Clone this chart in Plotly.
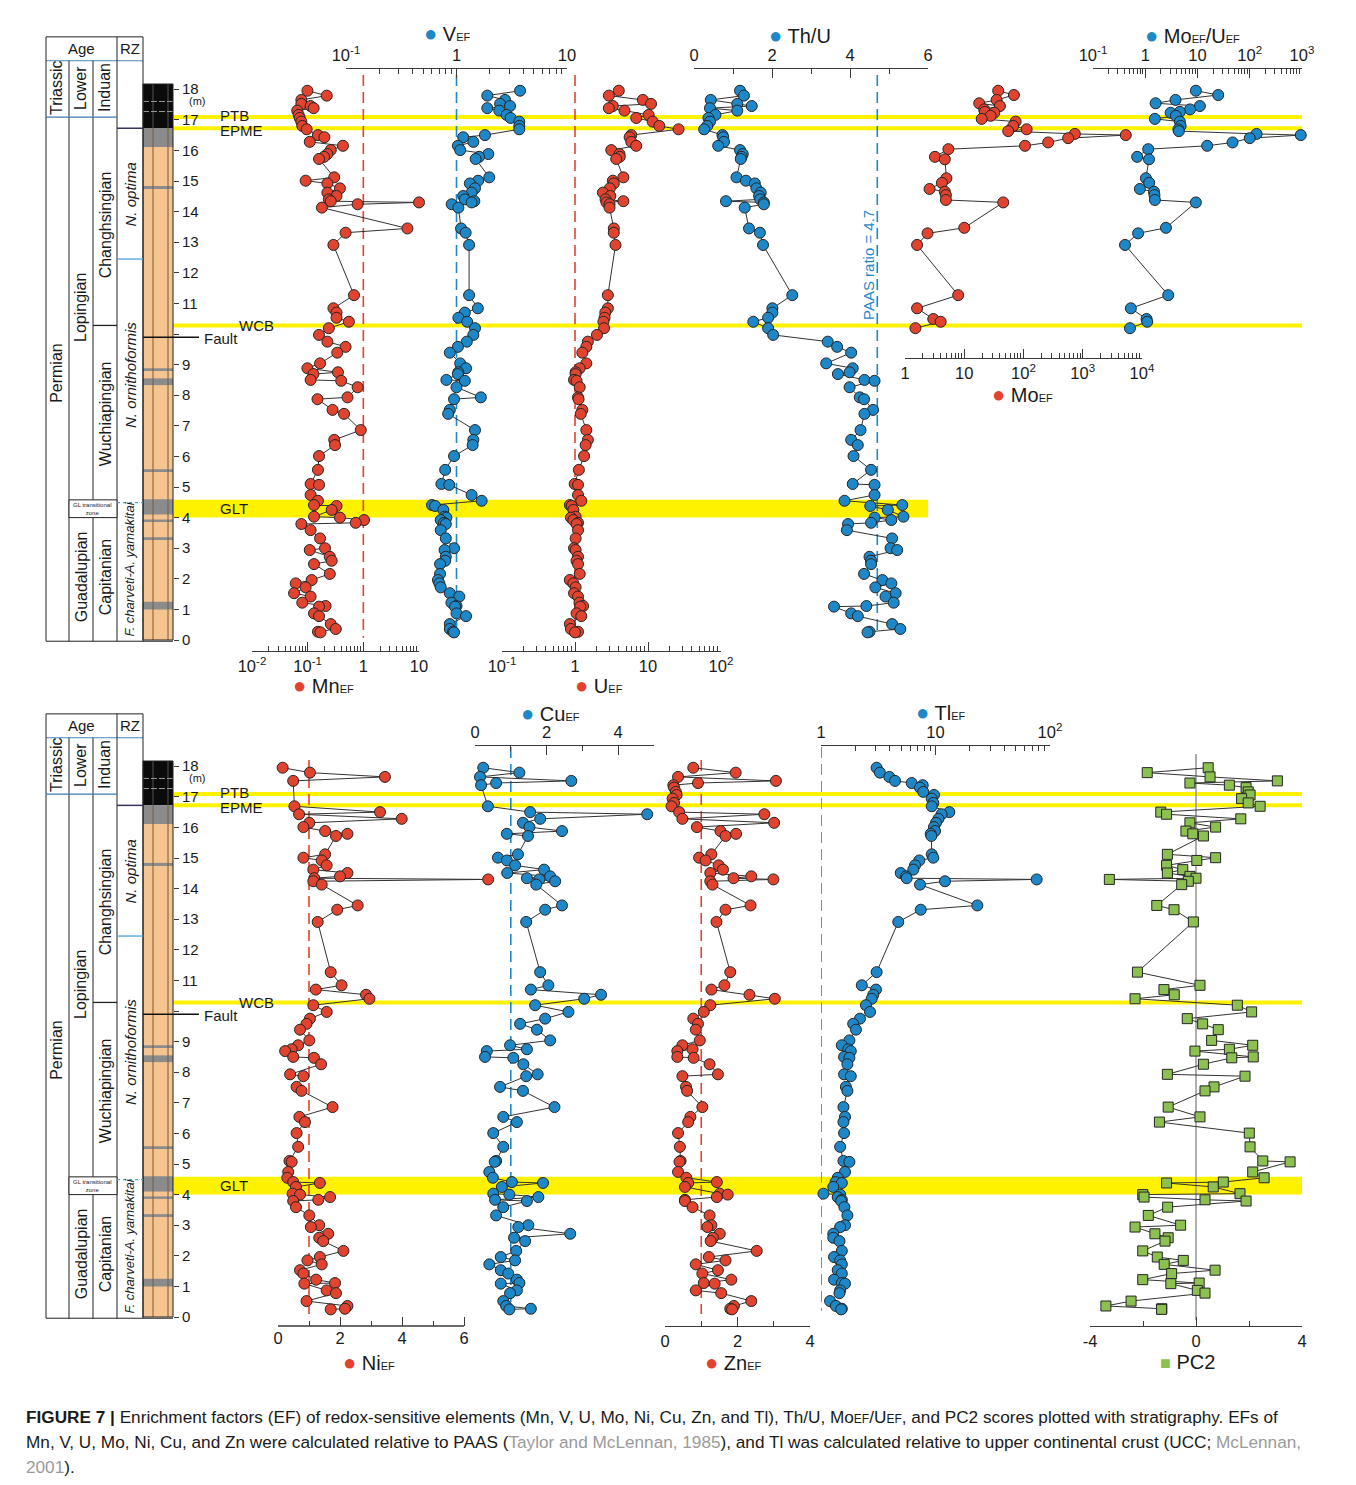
import plotly.graph_objects as go

FONT = "Liberation Sans, Arial, sans-serif"
W, HT = 1356, 1485


def fx(px):
    return px / W


def fy(py):
    return 1 - py / HT


# ---------------------------------------------------------------- data
# sample heights in the section (m)
height = [17.95, 17.79, 17.65, 17.52, 17.45, 17.38, 17.30, 17.16, 17.06, 16.94,
          16.80, 16.69, 16.50, 16.43, 16.28, 16.15, 16.01, 15.88, 15.79, 15.72,
          15.12, 15.01, 14.92, 14.76, 14.62, 14.51, 14.40, 14.34, 14.30, 14.24, 14.13,
          13.45, 13.31, 12.91, 11.27, 10.84, 10.70, 10.53, 10.40, 10.19, 9.97,
          9.75, 9.58, 9.39, 9.04, 8.88, 8.75, 8.69, 8.50, 8.47, 8.26,
          7.93, 7.87, 7.52, 7.39, 6.86, 6.54, 6.37, 6.01, 5.56, 5.10,
          5.07, 4.74, 4.55, 4.41, 4.38, 4.25, 4.03, 4.00, 3.92, 3.83,
          3.79, 3.59, 3.32, 3.00, 2.94, 2.72, 2.59, 2.48, 2.16, 1.96,
          1.85, 1.72, 1.53, 1.42, 1.22, 1.11, 1.09, 0.87, 0.78, 0.52,
          0.36, 0.27, 0.25]

mn_ef = [0.099, 0.22, 0.077, 0.077, 0.113, 0.128, 0.065, 0.069, 0.072, 0.077,
         0.080, 0.096, 0.153, 0.20, 0.109, 0.43, 0.26, 0.226, 0.197, 0.16,
         0.30, 0.092, 0.226, 0.38, 0.226, 0.33, 0.24, 0.26, 10.0, 0.79, 0.18,
         6.2, 0.48, 0.29, 0.68, 0.29, 0.33, 0.33, 0.55, 0.24, 0.16,
         0.226, 0.48, 0.34, 0.167, 0.099, 0.35, 0.127, 0.113, 0.40, 0.79,
         0.52, 0.15, 0.28, 0.45, 0.90, 0.30, 0.31, 0.16, 0.153, 0.113,
         0.16, 0.113, 0.153, 0.13, 0.33, 0.27, 0.13, 0.38, 1.03, 0.73,
         0.077, 0.113, 0.167, 0.205, 0.109, 0.25, 0.27, 0.13, 0.25, 0.118,
         0.061, 0.092, 0.057, 0.113, 0.080, 0.21, 0.16, 0.13, 0.16, 0.26,
         0.32, 0.153, 0.17]

v_ef = [3.76, 1.90, 2.75, 2.48, 3.05, 1.90, 2.44, 2.84, 3.09, 3.70,
        3.70, 3.70, 1.81, 1.15, 1.42, 1.03, 1.08, 1.94, 1.60, 1.49,
        1.98, 1.57, 1.32, 1.47, 1.37, 1.15, 1.19, 1.45, 1.37, 0.905, 1.04,
        1.10, 1.21, 1.30, 1.30, 1.56, 1.19, 1.04, 1.25, 1.47, 1.42,
        1.24, 1.03, 0.87, 1.08, 1.22, 1.04, 1.03, 0.81, 1.19, 1.0,
        1.66, 0.95, 0.87, 0.84, 1.47, 1.42, 1.40, 0.95, 0.79, 0.73,
        0.86, 1.37, 1.69, 0.60, 0.64, 0.76, 0.78, 0.81, 0.72, 0.77,
        0.80, 0.72, 0.80, 0.95, 0.78, 0.80, 0.79, 0.71, 0.71, 0.68,
        0.70, 0.72, 0.87, 1.06, 0.90, 1.0, 0.97, 1.0, 1.22, 0.87,
        0.87, 0.93, 0.95]

u_ef = [3.98, 2.91, 8.5, 11.0, 3.30, 2.91, 4.76, 10.2, 6.9, 11.6,
        14.3, 26.2, 5.9, 5.6, 5.9, 6.9, 3.14, 4.07, 4.1, 3.67,
        4.6, 3.30, 3.4, 3.0, 2.41, 3.05, 2.62, 4.6, 2.7, 2.97, 2.97,
        3.4, 3.4, 3.59, 2.82, 2.82, 2.6, 2.54, 2.45, 2.5, 2.0,
        1.50, 1.43, 1.26, 1.43, 1.16, 1.02, 1.02, 0.97, 1.05, 1.16,
        1.10, 1.12, 1.26, 1.20, 1.43, 1.50, 1.40, 1.33, 1.13, 0.99,
        1.10, 1.10, 1.22, 0.85, 0.90, 0.95, 1.02, 0.88, 0.95, 1.10,
        1.05, 1.10, 1.02, 0.97, 1.02, 1.10, 1.05, 1.10, 1.16, 0.85,
        0.95, 1.02, 0.97, 1.10, 1.15, 1.29, 1.18, 1.05, 1.22, 0.85,
        0.88, 1.10, 1.0]

th_u = [1.18, 1.28, 0.43, 1.11, 1.48, 0.41, 1.11, 0.55, 0.37, 0.41,
        0.34, 0.26, 0.73, 0.75, 0.77, 0.62, 1.18, 1.25, 1.22, 1.20,
        1.09, 1.33, 1.56, 1.60, 1.71, 1.67, 1.70, 0.82, 1.79, 1.79, 1.30,
        1.41, 1.69, 1.77, 2.52, 2.01, 2.01, 1.90, 1.52, 1.90, 2.03,
        3.43, 3.67, 4.03, 3.39, 4.07, 3.99, 3.69, 4.37, 4.63, 3.99,
        4.25, 4.36, 4.59, 4.37, 4.27, 4.03, 4.20, 4.09, 4.54, 4.07,
        4.63, 4.63, 3.86, 5.34, 4.52, 4.97, 5.37, 4.63, 5.06, 4.54,
        3.95, 3.92, 5.08, 5.04, 5.21, 4.50, 4.54, 4.54, 4.36, 4.83,
        5.06, 4.65, 5.17, 4.91, 5.12, 4.42, 3.59, 4.03, 4.20, 5.08,
        5.29, 4.50, 4.45]

# Mo was measured only in the upper part of the section
mo_height = [17.95, 17.81, 17.65, 17.54, 17.45, 17.34, 17.26, 17.23, 17.13, 17.03,
             16.94, 16.80, 16.69, 16.63, 16.54, 16.50, 16.40, 16.26, 16.15, 16.04,
             15.79, 15.71, 15.09, 14.94, 14.74, 14.65, 14.54, 14.38, 14.30, 13.47,
             13.29, 12.91, 11.27, 10.84, 10.49, 10.40, 10.19]
mo_ef = [37.4, 68.9, 35.2, 17.9, 40.0, 21.7, 22.3, 32.1, 27.9, 19.7,
         73.6, 67.0, 113, 55.2, 736, 5330, 567, 261, 106, 5.4,
         3.2, 4.7, 5.0, 4.2, 2.6, 4.7, 4.9, 4.9, 45.5, 10.0,
         2.4, 1.6, 7.9, 1.6, 3.0, 4.0, 1.5]
mo_u = [9.3, 24.9, 3.8, 1.58, 11.1, 7.2, 4.6, 3.06, 3.86, 1.53,
        4.6, 4.75, 4.3, 4.4, 135, 948, 100, 46.9, 15.3, 1.14,
        0.70, 1.18, 1.03, 1.19, 0.79, 1.47, 1.5, 1.53, 9.3, 2.49,
        0.73, 0.41, 2.75, 0.53, 1.06, 1.09, 0.51]

ni_ef = [0.15, 1.03, 3.45, 0.49, None, None, None, None, None, None,
         None, 0.53, 3.29, 0.68, 3.99, 1.01, 0.82, 1.52, 2.24, 1.87,
         1.52, 0.82, 1.41, 1.57, 1.14, 2.24, 2.0, 1.17, 6.78, 1.14, 1.41,
         2.57, 1.91, 1.28, 1.70, 2.05, 1.22, 2.84, 2.95, 1.14, 1.57,
         1.03, 0.92, 0.71, 1.01, 0.65, 0.44, 0.23, 0.49, 1.16, 1.39,
         0.39, 0.82, 0.60, 0.76, 1.76, 0.69, 0.87, 0.60, 0.65, 0.37,
         0.44, 0.33, 0.30, 0.49, 1.35, 0.58, 0.47, 0.71, 1.68, 1.30,
         0.49, 0.58, 1.01, 1.33, 1.06, 1.62, 1.33, 1.46, 2.11, 1.35,
         0.95, 1.41, 0.71, 0.82, 1.23, 1.84, 0.85, 1.57, 1.87, 0.92,
         2.24, 2.16, 1.70]

cu_ef = [0.23, 1.24, 0.14, 2.69, 0.59, 0.17, None, None, None, None,
         None, 0.36, 1.54, 4.81, 1.82, 1.34, 1.52, 2.43, 0.89, 1.48,
         1.20, 0.64, 0.89, 1.12, 1.93, 0.90, 2.10, 1.45, 1.80, 2.24, 1.71,
         2.43, 1.96, 1.43, 1.82, 2.05, 1.56, 3.52, 3.05, 1.68, 2.61,
         1.96, 1.26, 1.73, 2.10, 0.98, 1.45, 0.33, 0.28, 1.07, 1.35,
         1.75, 1.43, 0.70, 1.34, 2.22, 0.79, 1.17, 0.51, 0.79, 0.59,
         0.55, 0.40, 0.50, 1.03, 1.90, 0.75, 0.51, 0.96, 1.77, 0.56,
         1.45, 0.79, 0.59, 1.49, 1.21, 2.66, 1.09, 1.40, 1.15, 0.72,
         1.12, 0.40, 0.72, 0.93, 1.17, 1.24, 0.72, 1.17, 0.98, 0.79,
         0.87, 1.56, 0.96]

zn_ef = [0.78, 1.95, 0.36, 3.06, 0.91, 0.23, 0.25, 0.30, 0.32, 0.21,
         0.25, 0.18, 0.39, 2.74, 0.48, 3.01, 0.88, 1.53, 1.96, 1.67,
         1.28, 0.94, 1.12, 1.48, 1.60, 1.25, 2.38, 1.89, 2.99, 1.25, 1.31,
         2.36, 1.67, 1.42, 1.80, 1.64, 1.28, 2.33, 3.03, 1.25, 1.07,
         0.78, 0.91, 0.85, 0.96, 0.48, 0.76, 0.34, 0.34, 0.79, 1.23,
         1.46, 0.48, 0.58, 0.61, 1.03, 0.70, 0.64, 0.36, 0.41, 0.43,
         0.40, 0.36, 0.59, 1.43, 0.64, 0.55, 1.51, 1.73, 1.43, 0.55,
         0.55, 0.76, 1.23, 1.28, 1.17, 1.51, 1.32, 1.26, 2.53, 1.21,
         1.67, 0.85, 1.46, 1.03, 1.83, 1.07, 1.37, 0.85, 1.55, 2.38,
         1.90, 1.80, 1.85]

tl_ef = [3.06, 3.27, 3.95, 4.43, 6.2, 7.73, 7.32, 7.82, 9.7, 9.27,
         9.57, 9.27, 13.2, 11.3, 10.6, 10.1, 9.7, 9.9, 9.08, 9.2,
         9.27, 9.57, 7.22, 6.62, 6.4, 4.97, 5.53, 5.6, 76.5, 12.1, 7.32,
         23.2, 7.43, 4.73, 3.06, 2.27, 3.02, 2.86, 2.77, 2.47, 2.68,
         2.19, 1.91, 2.02, 1.77, 1.52, 1.73, 1.82, 1.59, 1.77, 1.70,
         1.59, 1.82, 1.65, 1.70, 1.57, 1.62, 1.57, 1.59, 1.47, 1.57,
         1.77, 1.62, 1.40, 1.34, 1.52, 1.28, 1.05, 1.47, 1.40, 1.52,
         1.50, 1.60, 1.70, 1.62, 1.47, 1.28, 1.28, 1.45, 1.52, 1.30,
         1.47, 1.52, 1.40, 1.52, 1.30, 1.52, 1.62, 1.47, 1.45, 1.20,
         1.35, 1.52, 1.50]

pc2 = [0.46, -1.84, 0.53, 3.07, -0.23, 1.26, 1.89, 1.97, 2.04, 1.72,
       1.97, 2.42, -1.33, -1.11, 1.69, -0.23, 0.74, -0.38, -0.12, 0.28,
       -1.08, 0.74, 0.03, -1.11, -0.50, -1.08, -0.23, 0.0, -3.27, -0.29, -0.54,
       -1.48, -0.83, -0.10, -2.21, 0.15, -1.21, -0.82, -2.30, 1.56, 2.10,
       -0.33, 0.25, 0.84, 0.59, 2.14, 1.26, -0.04, 2.16, 1.35, 0.28,
       -1.08, 1.85, 0.68, 0.34, -1.05, 0.15, -1.38, 2.01, 2.04, 2.52,
       3.55, 2.14, 2.57, 1.03, -1.11, 0.65, 1.66, -2.01, -1.96, 0.34,
       1.89, -1.07, -1.80, -0.58, -2.30, -1.55, -1.05, -1.17, -2.01, -1.46,
       -0.48, -1.20, 0.72, -0.92, -2.01, 0.12, -0.95, 0.05, 0.34, -2.45,
       -3.40, -1.29, -1.30]

# event horizons (m)
ptb_h, epme_h, wcb_h, fault_h = 17.09, 16.72, 10.28, 9.89
glt_h = (4.0, 4.58)

# lithology column (m)
grey_beds = [(14.74, 14.84), (8.79, 8.88), (8.33, 8.55), (5.49, 5.58),
             (4.10, 4.60), (3.86, 3.94), (3.27, 3.36), (1.0, 1.25)]
limestone_top, grey_top, black_top = 16.11, 16.73, 18.17

# depth scale labels (the 10 m label sits under the fault mark)
depth_ticks = list(range(19))
depth_labels = ["" if d == 10 else str(d) for d in depth_ticks]

# ---------------------------------------------------------------- styling
RED, BLUE, GREEN = "#E2432E", "#1E87C7", "#8CC152"
EDGE, LINK = "#252525", "#333333"
YELLOW = "#FFF200"
AXC = "#3a3a3a"
PX_PER_M = 30.6
Y_RANGE = [-0.6, 19.9]
ZERO = {"y": 640, "y2": 1317}     # pixel row of 0 m in each panel


def y_dom(zero):
    return [fy(zero - PX_PER_M * Y_RANGE[0]), fy(zero - PX_PER_M * Y_RANGE[1])]


def log_ticks(d0, d1):
    major = [10.0 ** d for d in range(d0, d1 + 1)]
    labels = []
    for d in range(d0, d1 + 1):
        labels.append({0: "1", 1: "10"}.get(d, "10<sup>%d</sup>" % d))
    minor = [k * 10.0 ** d for d in range(d0, d1) for k in range(2, 10)]
    return major, labels, minor


def track_axis(x0, x1, rng, pos_py, side, major, labels, minor=None,
               typ="linear", line=True):
    ax = dict(domain=[fx(x0), fx(x1)], range=rng, type=typ, anchor="free",
              position=fy(pos_py), side=side, showline=line, linecolor=AXC,
              linewidth=1.3, ticks="inside", ticklen=9, tickwidth=1.2,
              tickcolor=AXC, tickmode="array", tickvals=major, ticktext=labels,
              showgrid=False, zeroline=False, fixedrange=True, automargin=False,
              tickfont=dict(family=FONT, size=16.5, color="#1a1a1a"))
    if minor:
        ax["minor"] = dict(tickmode="array", tickvals=minor, ticks="inside",
                           ticklen=5, tickwidth=1, tickcolor=AXC, showgrid=False)
    return ax


fig = go.Figure()


def series(x, y, xa, ya, color, symbol="circle"):
    fig.add_trace(go.Scatter(
        x=x, y=y, xaxis=xa, yaxis=ya, mode="lines+markers",
        line=dict(color=LINK, width=1), connectgaps=True, cliponaxis=False,
        marker=dict(symbol=symbol, size=11 if symbol == "circle" else 10,
                    color=color, line=dict(color=EDGE, width=1)),
        showlegend=False, hoverinfo="skip"))


def ref_line(xv, y0, y1, xa, ya, color, dash="11px,6px", width=1.6):
    fig.add_trace(go.Scatter(
        x=[xv, xv], y=[y0, y1], xaxis=xa, yaxis=ya, mode="lines",
        line=dict(color=color, width=width, dash=dash),
        showlegend=False, hoverinfo="skip"))


# reference lines (EF = 1, PAAS Th/U, PC2 = 0)
ref_line(1, 18.46, 0.07, "x", "y", RED)
ref_line(1, 18.46, 0.07, "x2", "y", BLUE)
ref_line(1, 18.46, 0.07, "x3", "y", RED)
ref_line(4.7, 18.46, 0.33, "x4", "y", BLUE)
ref_line(1, 18.2, 0.1, "x7", "y2", RED)
ref_line(1, 18.63, 0.2, "x8", "y2", BLUE)
ref_line(1, 18.2, 0.1, "x9", "y2", RED)
ref_line(1, 18.63, 0.2, "x10", "y2", BLUE)
ref_line(0, 18.4, -0.1, "x11", "y2", "#9a9a9a", dash="solid", width=1.6)

# upper panel
series(mn_ef, height, "x", "y", RED)
series(v_ef, height, "x2", "y", BLUE)
series(u_ef, height, "x3", "y", RED)
series(th_u, height, "x4", "y", BLUE)
series(mo_ef, mo_height, "x5", "y", RED)
series(mo_u, mo_height, "x6", "y", BLUE)
# lower panel
series(ni_ef, height, "x7", "y2", RED)
series(cu_ef, height, "x8", "y2", BLUE)
series(zn_ef, height, "x9", "y2", RED)
series(tl_ef, height, "x10", "y2", BLUE)
series(pc2, height, "x11", "y2", GREEN, symbol="square")

# ---------------------------------------------------------------- axes
lay = {}
m, l, n = log_ticks(-2, 1)
lay["xaxis"] = track_axis(252, 419, [-2, 1], 651, "bottom", m, l, n, "log")
m, l, n = log_ticks(-1, 1)
lay["xaxis2"] = track_axis(346, 567, [-1, 1], 68, "top", m, l, n, "log")
m, l, n = log_ticks(-1, 2)
lay["xaxis3"] = track_axis(502, 721, [-1, 2], 651, "bottom", m, l, n, "log")
lay["xaxis4"] = track_axis(694, 928, [0, 6], 68, "top", [0, 2, 4, 6],
                           ["0", "2", "4", "6"], [1, 3, 5])
m, l, n = log_ticks(0, 4)
lay["xaxis5"] = track_axis(905, 1142, [0, 4], 358, "bottom", m, l, n, "log")
m, l, n = log_ticks(-1, 3)
lay["xaxis6"] = track_axis(1093, 1302, [-1, 3], 68, "top", m, l, n, "log")
# Ni axis: the scale runs past the drawn ruler so the high value stays visible
ni_px = 31.0
lay["xaxis7"] = track_axis(278, 500, [0, (500 - 278) / ni_px], 1326, "bottom",
                           [0, 2, 4, 6], ["0", "2", "4", "6"], [1, 3, 5], line=False)
lay["xaxis8"] = track_axis(475, 654, [0, 5], 745, "top", [0, 2, 4],
                           ["0", "2", "4"], [1, 3, 5])
lay["xaxis9"] = track_axis(665, 810, [0, 4], 1326, "bottom", [0, 2, 4],
                           ["0", "2", "4"], [1, 3])
m, l, n = log_ticks(0, 2)
lay["xaxis10"] = track_axis(821, 1050, [0, 2], 745, "top", m, l, n, "log")
lay["xaxis11"] = track_axis(1090, 1302, [-4, 4], 1326, "bottom", [-4, 0, 4],
                            ["-4", "0", "4"], [-2, 2])

for key_name, ya in (("yaxis", "y"), ("yaxis2", "y2")):
    lay[key_name] = dict(domain=y_dom(ZERO[ya]), range=Y_RANGE, anchor="free",
                         position=fx(173), side="right", ticks="outside", ticklen=5,
                         tickwidth=1, tickcolor=AXC, tickmode="array",
                         tickvals=depth_ticks, ticktext=depth_labels,
                         showline=False, showgrid=False, zeroline=False,
                         fixedrange=True, automargin=False,
                         tickfont=dict(family=FONT, size=15, color="#1a1a1a"))

shapes = []
ann = []


def rect(x0, x1, y0, y1, yref, fill, line_color=None, lw=0, layer="above"):
    shapes.append(dict(type="rect", xref="paper", yref=yref, x0=fx(x0), x1=fx(x1),
                       y0=y0, y1=y1, fillcolor=fill, layer=layer,
                       line=dict(color=line_color or fill, width=lw)))


def seg(x0, x1, y0, y1, yref, color, width=1, dash="solid", layer="above"):
    shapes.append(dict(type="line", xref="paper", yref=yref, x0=fx(x0), x1=fx(x1),
                       y0=y0, y1=y1, layer=layer,
                       line=dict(color=color, width=width, dash=dash)))


def text(x, y, s, yref, size=16, angle=0, color="#1a1a1a", xanchor="center",
         italic=False):
    if italic:
        s = "<i>%s</i>" % s
    ann.append(dict(x=fx(x), y=y, xref="paper", yref=yref, text=s, showarrow=False,
                    textangle=angle, xanchor=xanchor, yanchor="middle",
                    font=dict(family=FONT, size=size, color=color)))


def strat_column(yref, glt_right):
    # event horizons across the tracks
    for h in (ptb_h, epme_h, wcb_h):
        seg(173, 1302, h, h, yref, YELLOW, width=4, layer="below")
    rect(173, glt_right, glt_h[0], glt_h[1], yref, YELLOW, layer="below")

    # lithology
    rect(143, 173, 0, limestone_top, yref, "#F6C48F")
    rect(143, 173, limestone_top, grey_top, yref, "#8B8B8B")
    rect(143, 173, grey_top, black_top, yref, "#0b0b0b")
    for a, b in grey_beds:
        rect(143, 173, a, b, yref, "#8B8B8B")
    for xl in (153, 168):
        seg(xl, xl, 0, grey_top, yref, "#6f5d4c", width=1)
        seg(xl, xl, grey_top, black_top, yref, "#555555", width=1)
    for h in (17.60, 17.27):
        seg(143, 173, h, h, yref, "#9a9a9a", width=1, dash="6px,2px")
    rect(143, 173, 0, black_top, yref, "rgba(0,0,0,0)", line_color="#222", lw=1)
    seg(143, 199, fault_h, fault_h, yref, "#111", width=1.5)

    # age / zone table
    top, head, bot = 19.71, 18.93, -0.04
    seg(46, 143, top, top, yref, "#222")
    seg(46, 143, head, head, yref, "#4d85bd")
    seg(46, 173, bot, bot, yref, "#222")
    for xv in (46, 117, 143):
        seg(xv, xv, bot, top, yref, "#222")
    seg(69, 69, bot, head, yref, "#222")
    seg(93, 93, bot, glt_h[0], yref, "#222")
    seg(93, 93, glt_h[1], head, yref, "#222")
    seg(46, 117, ptb_h, ptb_h, yref, "#3f78b5", width=1.3)
    rect(69, 117, glt_h[0], glt_h[1], yref, "white", line_color="#222", lw=1)
    seg(93, 117, wcb_h, wcb_h, yref, "#222", width=1.3)
    seg(117, 143, epme_h, epme_h, yref, "#33335e", width=1.5)
    seg(117, 143, 12.45, 12.45, yref, "#4aa3d8", width=1.3)
    seg(117, 143, 4.49, 4.49, yref, "#4aa3d8", width=1.3, dash="dot")

    text(81, 19.33, "Age", yref, size=15)
    text(130, 19.33, "RZ", yref, size=15)
    text(57, 18.04, "Triassic", yref, angle=-90)
    text(81, 18.04, "Lower", yref, angle=-90)
    text(105, 18.04, "Induan", yref, angle=-90)
    text(57, 8.73, "Permian", yref, angle=-90)
    text(81, 10.85, "Lopingian", yref, angle=-90)
    text(105, 13.55, "Changhsingian", yref, angle=-90)
    text(105, 7.38, "Wuchiapingian", yref, angle=-90)
    text(81, 2.05, "Guadalupian", yref, angle=-90)
    text(105, 2.05, "Capitanian", yref, angle=-90)
    text(130, 14.56, "N. optima", yref, size=15, angle=-90, italic=True)
    text(130, 8.66, "N. ornithoformis", yref, size=15, angle=-90, italic=True)
    text(130, 2.3, "F. charveti-A. yamakitai", yref, size=13, angle=-90, italic=True)
    text(70.5, 4.29, "GL transitional<br>zone", yref, size=6, xanchor="left")

    text(187, 17.61, "(m)", yref, size=11, xanchor="left")
    text(218, ptb_h + 0.06, "PTB", yref, size=15, xanchor="left")
    text(218, epme_h - 0.06, "EPME", yref, size=15, xanchor="left")
    text(237, wcb_h, "WCB", yref, size=15, xanchor="left")
    text(202, fault_h - 0.03, "Fault", yref, size=15, xanchor="left")
    text(218, 4.29, "GLT", yref, size=15, xanchor="left")


strat_column("y", 928)
strat_column("y2", 1302)

# ruler for the Ni axis, drawn over 0-6 only
shapes.append(dict(type="line", xref="x7", yref="paper", x0=0, x1=6,
                   y0=fy(1326), y1=fy(1326), line=dict(color=AXC, width=1.3)))


def key(xc, yc, main, color, sym="\u25CF", symsize=22):
    s = "<span style='color:%s;font-size:%dpx'>%s</span> %s" % (color, symsize, sym, main)
    ann.append(dict(x=fx(xc), y=fy(yc), xref="paper", yref="paper", text=s,
                    showarrow=False, xanchor="center", yanchor="middle",
                    font=dict(family=FONT, size=20, color="#1a1a1a")))


EF = "<span style='font-size:11px'>EF</span>"
key(447, 33, "V" + EF, BLUE)
key(800, 35, "Th/U", BLUE)
key(1192, 35, "Mo" + EF + "/U" + EF, BLUE)
key(1022, 394, "Mo" + EF, RED)
key(323, 686, "Mn" + EF, RED)
key(599, 686, "U" + EF, RED)
key(550, 713, "Cu" + EF, BLUE)
key(940, 712, "Tl" + EF, BLUE)
key(369, 1362, "Ni" + EF, RED)
key(733, 1362, "Zn" + EF, RED)
key(1187, 1362, "PC2", GREEN, sym="\u25A0", symsize=18)

ann.append(dict(x=fx(869), y=fy(208), xref="paper", yref="paper",
                text="PAAS ratio = 4.7", showarrow=False, textangle=-90,
                font=dict(family=FONT, size=15, color=BLUE)))

# caption
GREY = "#9a9a9a"
sub = "<span style='font-size:12px'>EF</span>"
cap = [
    "<b>FIGURE 7 |</b> Enrichment factors (EF) of redox-sensitive elements (Mn, V, U, Mo, "
    "Ni, Cu, Zn, and Tl), Th/U, Mo%s/U%s, and PC2 scores plotted with stratigraphy. "
    "EFs of" % (sub, sub),
    "Mn, V, U, Mo, Ni, Cu, and Zn were calculated relative to PAAS (<span style='color:%s'>"
    "Taylor and McLennan, 1985</span>), and Tl was calculated relative to upper continental "
    "crust (UCC; <span style='color:%s'>McLennan,</span>" % (GREY, GREY),
    "<span style='color:%s'>2001</span>)." % GREY,
]
for i, line in enumerate(cap):
    ann.append(dict(x=fx(24), y=fy(1417 + 25 * i), xref="paper", yref="paper",
                    text=line, showarrow=False, xanchor="left", yanchor="middle",
                    font=dict(family=FONT, size=17.2, color="#1a1a1a")))

fig.update_layout(
    width=W, height=HT, margin=dict(l=0, r=0, t=0, b=0, autoexpand=False),
    paper_bgcolor="white", plot_bgcolor="rgba(0,0,0,0)",
    showlegend=False, hovermode=False,
    shapes=shapes, annotations=ann, **lay)

fig.write_html("out.html")
